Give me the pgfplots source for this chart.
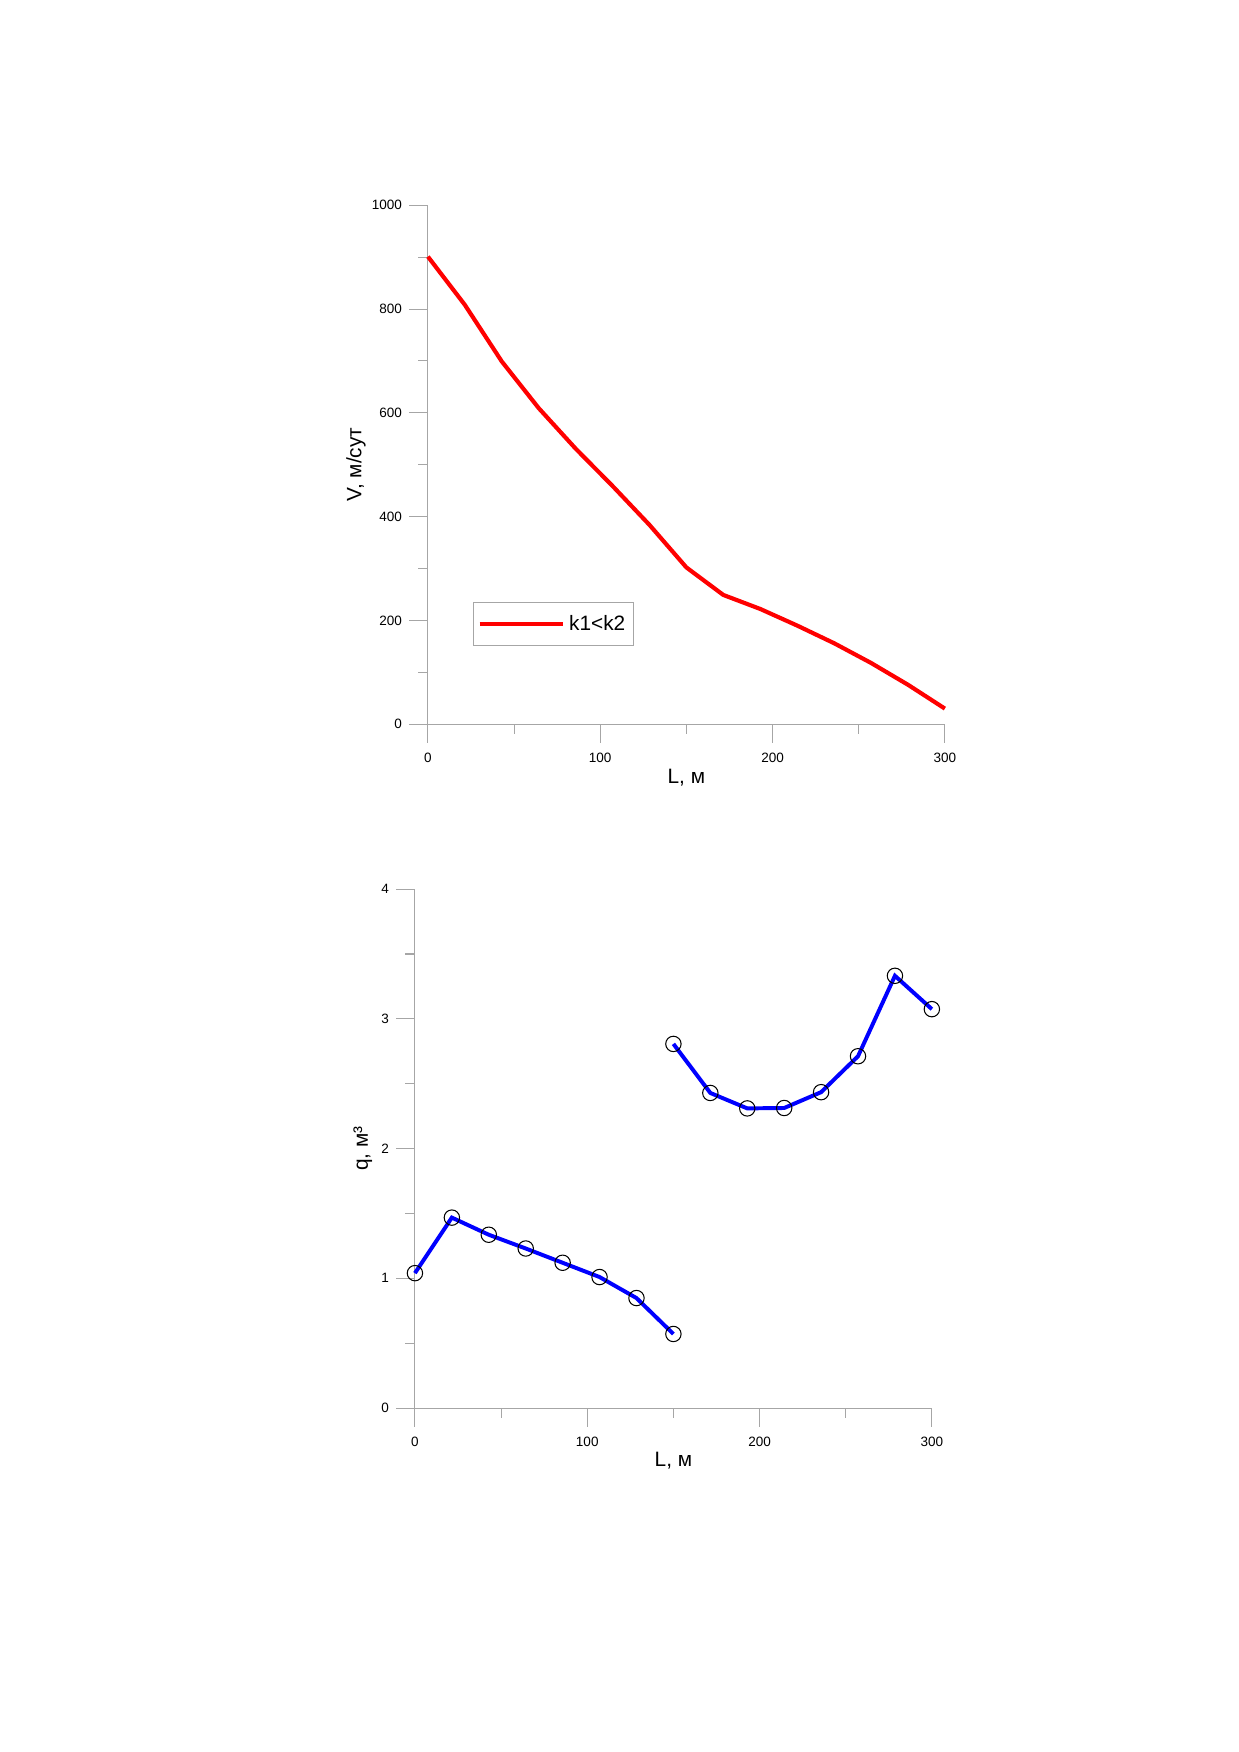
\documentclass[border=0pt]{standalone}
\usepackage{fontspec}
\setmainfont{Liberation Sans}
\usepackage{pgfplots}
\pgfplotsset{compat=1.18}
\pgfplotstableread{
L V
0 901
21.43 808
42.86 699
64.29 609
85.71 531
107.14 459
128.57 384
150 302
171.43 249
192.86 222
214.29 190
235.71 156
257.14 118
278.57 76
300 30
}\tabV
\pgfplotstableread{
L q
0 1.04
21.43 1.468
42.86 1.336
64.29 1.23
85.71 1.12
107.14 1.01
128.57 0.848
150 0.571
}\tabQa
\pgfplotstableread{
L q
150 2.807
171.43 2.429
192.86 2.31
214.29 2.313
235.71 2.435
257.14 2.712
278.57 3.332
300 3.075
}\tabQb
\pgfplotsset{
  mystyle/.style={
    scale only axis,
    width=248.4pt, height=249.35pt,
    anchor=south west,
    axis x line*=bottom, axis y line*=left,
    axis line style={-, gray!70, line width=0.5pt},
    tick style={gray!70, line width=0.5pt},
    tick align=outside,
    major tick length=9pt, minor tick length=4.6pt,
    xmin=0, xmax=300, xtick={0,100,200,300}, minor x tick num=1,
    /pgf/number format/assume math mode=true,
    /pgf/number format/1000 sep={},
    tick label style={font=\fontsize{6.5}{8}\selectfont, black},
    xticklabel style={yshift=-1.5pt},
    label style={font=\fontsize{10}{12}\selectfont},
    clip=false,
    xlabel style={at={(axis description cs:0.5,0)}, anchor=base, yshift=-28.3pt},
  }
}
\begin{document}
\begin{tikzpicture}
\useasboundingbox (0,0) rectangle (595.28pt,841.89pt);
\begin{axis}[mystyle, at={(205.63pt,493.90pt)},
  ymin=0, ymax=1000, ytick={0,200,400,600,800,1000}, minor y tick num=1,
  xlabel={L, м}, ylabel={V, м/сут},
  ylabel style={at={(axis description cs:0,0.5)}, anchor=center, rotate=0, yshift=34.6pt},
  legend style={at={(axis cs:26.1,235)}, anchor=north west, draw=gray!70, line width=0.5pt,
    font=\fontsize{10}{12}\selectfont, inner xsep=2pt, inner ysep=4pt},
  legend image code/.code={\draw[#1] (0pt,0pt) -- (40pt,0pt);},
]
\addplot[red, line width=2pt, no marks] table[x=L, y=V] {\tabV};
\addlegendentry{k1<k2}
\end{axis}
\begin{axis}[mystyle, at={(199.39pt,165.27pt)},
  ymin=0, ymax=4, ytick={0,1,2,3,4}, minor y tick num=1,
  xlabel={L, м}, ylabel={q, м³},
  ylabel style={at={(axis description cs:0,0.5)}, anchor=center, yshift=25pt},
]
\addplot[blue, line width=1.9pt, mark=o, mark size=3.7pt, mark options={black, line width=0.5pt, fill=none}] table[x=L, y=q] {\tabQa};
\addplot[blue, line width=1.9pt, mark=o, mark size=3.7pt, mark options={black, line width=0.5pt, fill=none}] table[x=L, y=q] {\tabQb};
\end{axis}
\end{tikzpicture}
\end{document}
